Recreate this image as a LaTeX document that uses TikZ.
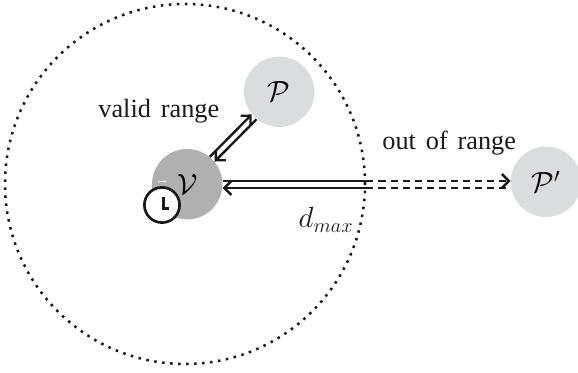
\documentclass[tikz,border=0pt]{standalone}
\usepackage{fontspec}
\setmainfont[WordSpace=1.5]{Liberation Serif}
\usetikzlibrary{arrows.meta,positioning,calc}
\definecolor{proverfill}  {HTML}{DBDCDD}
\definecolor{verifierfill}{HTML}{B0B0B0}
\definecolor{ink}         {HTML}{1A1A1A}
\tikzset{
  party/.style={circle,inner sep=0pt,minimum size=1.76cm,font=\fontsize{19.5}{22}\selectfont},
  rangelabel/.style={inner sep=0pt,font=\fontsize{18.7}{20}\selectfont,text=ink},
  wire/.style={draw=ink,line width=1.7pt},
  wiretip/.style={wire,-{Straight Barb[length=5pt,width=10pt,line width=1.7pt]}},
  wiredash/.style={dash pattern=on 5pt off 3.6pt},
}
\begin{document}
\begin{tikzpicture}
  \useasboundingbox (0,0) rectangle (14.45,9.325);
  \node[circle,draw=ink,line width=1.8pt,dash pattern=on 1.8pt off 3.9pt,minimum size=9cm,inner sep=0pt] (range) at (4.625,4.725) {};
  \node[party,fill=verifierfill] (v) at (4.68,4.72) {$\mathcal{V}$};
  \node[party,fill=proverfill] (p) at (6.98,7.03) {$\mathcal{P}$};
  \node[party,fill=proverfill] (pp) at (13.65,4.78) {$\mathcal{P}'$};
  % clock
  \node[circle,draw=ink,fill=white,line width=1.9pt,minimum size=0.88cm,inner sep=0pt] (clock) at (4.05,4.2) {};
  \draw[draw=ink,line width=1.9pt] ([xshift=0.03cm,yshift=0.2cm]clock.center) -- ([xshift=0.03cm,yshift=-0.08cm]clock.center) -- ([xshift=0.17cm,yshift=-0.08cm]clock.center);
  \draw[white,line width=1.1pt] ([yshift=0.11cm]clock.north) ++(-0.11,0) -- ++(0.22,0);
  \node[rangelabel] (valid) at (3.97,6.55) {valid range};
  \node[rangelabel] (out) at (11.23,5.75) {out of range};
  \node[rangelabel,font=\fontsize{22.5}{24}\selectfont] (dmax) at (8.15,3.83) {$d_{max}$};
  % inner pair
  \draw[wiretip] ($(v.45)+(-0.06,0.06)$) -- ($(p.225)+(-0.06,0.06)$);
  \draw[wiretip] ($(p.225)+(0.06,-0.06)$) -- ($(v.45)+(0.06,-0.06)$);
  % outer pair
  \coordinate (edgeup) at (9.16,4.8);
  \coordinate (edgedown) at (9.16,4.625);
  \draw[wire] (edgeup) -- (edgeup -| v.east);
  \draw[wiretip] (edgedown) -- (edgedown -| v.east);
  \draw[wiretip,wiredash] (edgeup) -- (edgeup -| pp.west);
  \draw[wire,wiredash] (edgedown) -- (edgedown -| pp.west);
\end{tikzpicture}
\end{document}
